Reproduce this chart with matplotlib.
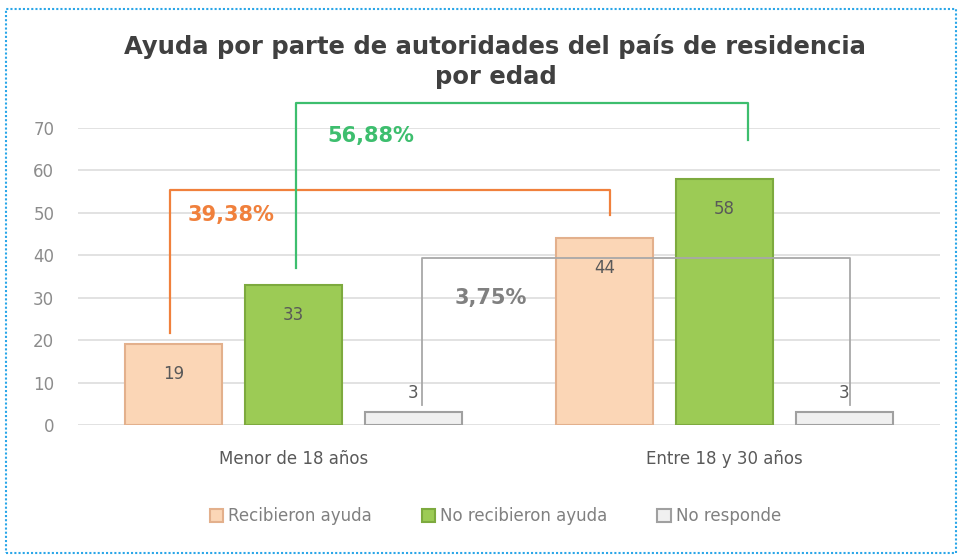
import matplotlib
matplotlib.use("Agg")
import matplotlib.pyplot as plt
from matplotlib.patches import Rectangle
import numpy as np

categories = ["Menor de 18 años", "Entre 18 y 30 años"]
series_names = ["Recibieron ayuda", "No recibieron ayuda", "No responde"]
recibieron = [19, 44]
no_recibieron = [33, 58]
no_responde = [3, 3]
pct_labels = ["39,38%", "56,88%", "3,75%"]
yticks = [0, 10, 20, 30, 40, 50, 60, 70]

fig = plt.figure(figsize=(9.62, 5.56), dpi=100)
ax = fig.add_axes([0.081, 0.2356, 0.896, 0.5342])

x = np.arange(len(categories))
w = 0.225
off = 0.278
face = ["#FBD6B6", "#9CCB55", "#F0F0F0"]
edge = ["#E3B08C", "#7DAA3E", "#A0A0A0"]
vals = [recibieron, no_recibieron, no_responde]
bars = []
for i, (v, fc, ec) in enumerate(zip(vals, face, edge)):
    b = ax.bar(x + (i - 1) * off, v, w, color=fc, edgecolor=ec, linewidth=1.5,
               label=series_names[i], zorder=3)
    bars.append(b)

for i, b in enumerate(bars):
    for rect, v in zip(b, vals[i]):
        cx = rect.get_x() + rect.get_width() / 2
        if i < 2:
            ax.text(cx, v - 7, str(v), ha="center", va="center", fontsize=12,
                    color="#595959", zorder=5)
        else:
            ax.text(cx, v + 4.5, str(v), ha="center", va="center", fontsize=12,
                    color="#595959", zorder=5)

ax.set_xlim(-0.5, 1.5)
ax.set_ylim(0, 70)
ax.set_yticks(yticks)
ax.set_xticks(x)
ax.set_xticklabels(categories)
ax.tick_params(axis="y", length=0, labelsize=12, labelcolor="#8C8C8C", pad=17)
ax.tick_params(axis="x", length=0, labelsize=12, labelcolor="#595959", pad=18)
ax.grid(axis="y", color="#DDDDDD", linewidth=1.2, zorder=0)
for s in ax.spines.values():
    s.set_visible(False)

# brackets
def bracket(x0, y0, x1, y1, ytop, color, lw=1.6):
    ax.plot([x0, x0, x1, x1], [y0, ytop, ytop, y1], color=color, lw=lw,
            clip_on=False, zorder=4)

bracket(-0.287, 21.7, 0.734, 49.5, 55.4, "#F0803C")
bracket(0.006, 37.0, 1.054, 67.2, 75.9, "#3DBE6E")
bracket(0.298, 4.7, 1.291, 4.7, 39.4, "#A8A8A8", lw=1.3)

ax.text(-0.245, 49.5, pct_labels[0], fontsize=15, fontweight="bold",
        color="#F0803C", ha="left", va="center", zorder=5)
ax.text(0.078, 68.0, pct_labels[1], fontsize=15, fontweight="bold",
        color="#3DBE6E", ha="left", va="center", zorder=5)
ax.text(0.375, 30.0, pct_labels[2], fontsize=15, fontweight="bold",
        color="#808080", ha="left", va="center", zorder=5)

fig.text(0.515, 0.889, "Ayuda por parte de autoridades del país de residencia\npor edad",
         ha="center", va="center", fontsize=17.5, fontweight="bold",
         color="#404040", linespacing=1.3)

leg = fig.legend(loc="center", bbox_to_anchor=(0.515, 0.072), ncol=3, frameon=False,
                 fontsize=12, handlelength=0.8, handleheight=0.8, columnspacing=3.0,
                 handletextpad=0.3)
for t in leg.get_texts():
    t.set_color("#808080")

fig.patches.append(Rectangle((0.006, 0.006), 0.988, 0.978, transform=fig.transFigure,
                             fill=False, edgecolor="#2AA6E8", linewidth=1.5,
                             linestyle=(0, (1, 1))))

fig.savefig("out.png", dpi=100)
